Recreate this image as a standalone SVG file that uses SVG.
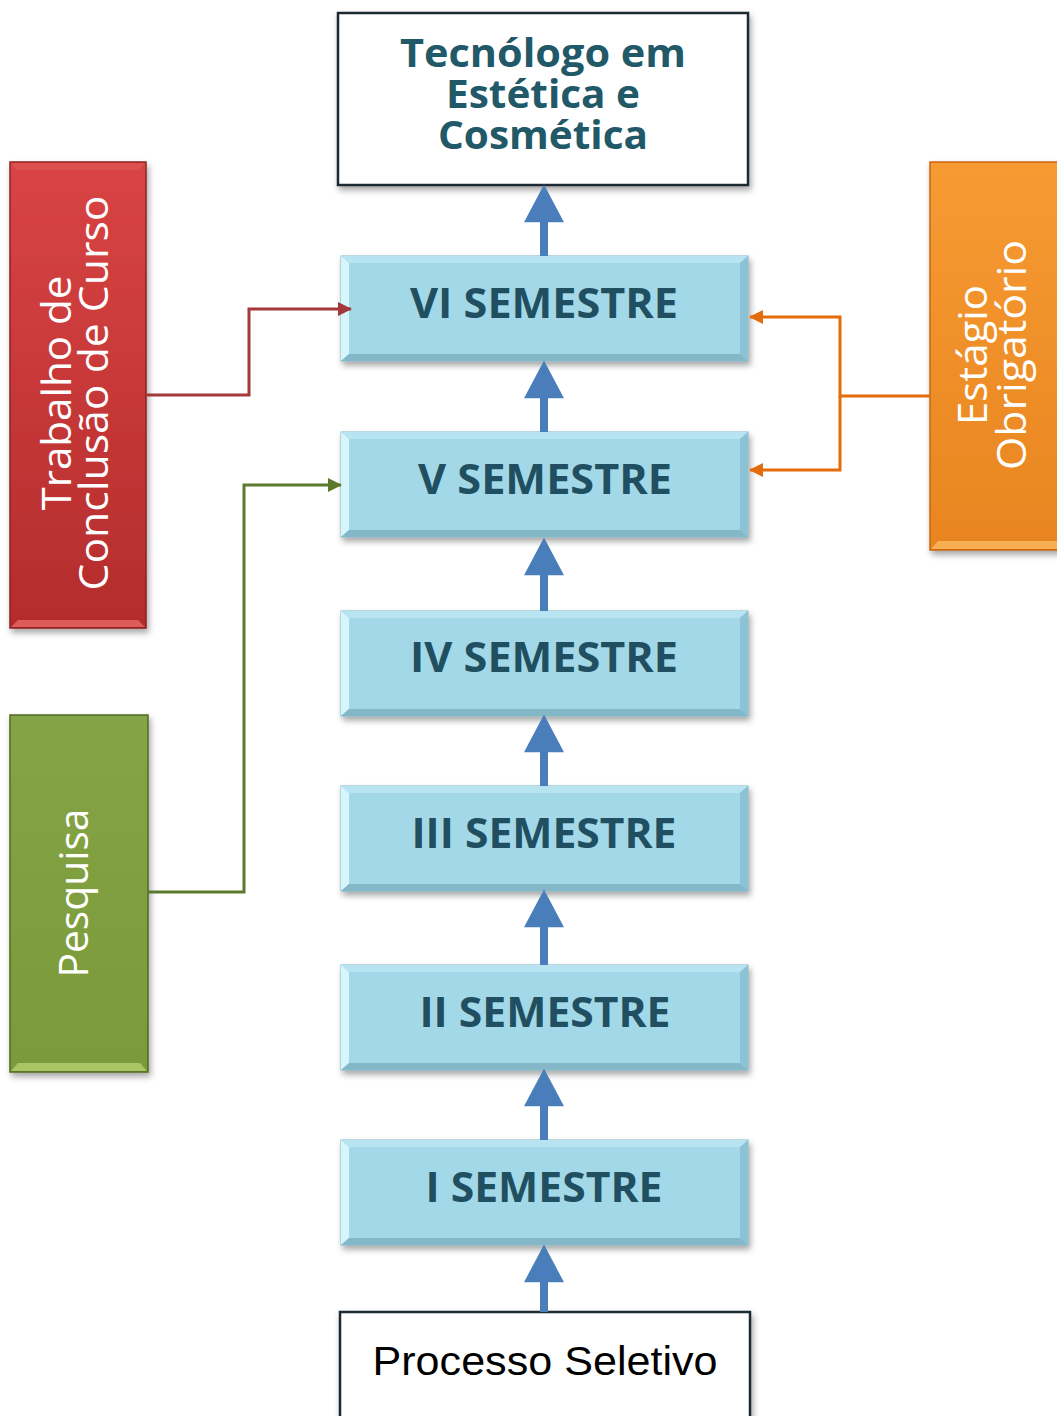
<svg xmlns="http://www.w3.org/2000/svg" width="1057" height="1416" viewBox="0 0 1057 1416">
<style>
.ttl{font-family:"Open Sans","Liberation Sans",sans-serif;font-weight:700;font-size:40px;fill:#215968;text-anchor:middle}
.sem{font-family:"Open Sans","Liberation Sans",sans-serif;font-weight:700;font-size:42px;fill:#1f4f60;text-anchor:middle}
.side{font-family:"Open Sans","Liberation Sans",sans-serif;font-size:40px;fill:#ffffff;text-anchor:middle}
.ps{font-family:"Liberation Sans",Arial,sans-serif;font-size:40px;fill:#000000;text-anchor:middle}
.plain{fill:#ffffff;stroke:#1e2a30;stroke-width:2.5}
.blue{stroke:#4a7ebb;stroke-width:8;fill:none}
</style>
<defs>
<filter id="sh" x="-10%" y="-10%" width="130%" height="130%">
<feDropShadow dx="2" dy="4" stdDeviation="3" flood-color="#000" flood-opacity="0.35"/>
</filter>
<linearGradient id="gRed" x1="0" y1="0" x2="0" y2="1"><stop offset="0" stop-color="#d94444"/><stop offset="1" stop-color="#b42c2c"/></linearGradient>
<linearGradient id="gGreen" x1="0" y1="0" x2="0" y2="1"><stop offset="0" stop-color="#85a446"/><stop offset="1" stop-color="#7a9a3a"/></linearGradient>
<linearGradient id="gOr" x1="0" y1="0" x2="0" y2="1"><stop offset="0" stop-color="#f79a33"/><stop offset="1" stop-color="#e88520"/></linearGradient>
<symbol id="semBox" overflow="visible">
<rect x="0" y="0" width="407" height="105" fill="#a3d8e8" stroke="#7fb3c4" stroke-width="1"/>
<polygon points="0,0 407,0 399,7 8,7" fill="#b8e4f1"/>
<polygon points="0,0 8,7 8,98 0,105" fill="#d6f6fc"/>
<polygon points="407,0 407,105 399,98 399,7" fill="#8cc2d3"/>
<polygon points="0,105 8,98 399,98 407,105" fill="#84b8c9"/>
</symbol>
<marker id="mBlue" markerUnits="userSpaceOnUse" markerWidth="40" markerHeight="40" viewBox="0 0 36 38" refX="6" refY="19" orient="auto">
<path d="M0,0 L36,19 L0,38 z" fill="#4a7ebb"/>
</marker>
<marker id="mRed" markerUnits="userSpaceOnUse" markerWidth="14" markerHeight="14" viewBox="0 0 14 14" refX="13" refY="7" orient="auto">
<path d="M0,0 L14,7 L0,14 z" fill="#a3393a"/>
</marker>
<marker id="mGreen" markerUnits="userSpaceOnUse" markerWidth="14" markerHeight="14" viewBox="0 0 14 14" refX="13" refY="7" orient="auto">
<path d="M0,0 L14,7 L0,14 z" fill="#5c7a2e"/>
</marker>
<marker id="mOr" markerUnits="userSpaceOnUse" markerWidth="14" markerHeight="14" viewBox="0 0 14 14" refX="13" refY="7" orient="auto">
<path d="M0,0 L14,7 L0,14 z" fill="#e46c0a"/>
</marker>
</defs>
<rect width="1057" height="1416" fill="#ffffff"/>

<g id="n-tecnologo">
<rect class="plain" x="338" y="13" width="410" height="172" filter="url(#sh)"/>
<text class="ttl" x="543" y="67" textLength="286" lengthAdjust="spacingAndGlyphs">Tecnólogo em</text>
<text class="ttl" x="543" y="108" textLength="194" lengthAdjust="spacingAndGlyphs">Estética e</text>
<text class="ttl" x="543" y="149" textLength="210" lengthAdjust="spacingAndGlyphs">Cosmética</text>
</g>

<g id="n-vi">
<use href="#semBox" x="341" y="256" filter="url(#sh)"/>
<text class="sem" x="544" y="318" textLength="268" lengthAdjust="spacingAndGlyphs">VI SEMESTRE</text>
</g>
<g id="n-v">
<use href="#semBox" x="341" y="432" filter="url(#sh)"/>
<text class="sem" x="545" y="494" textLength="254" lengthAdjust="spacingAndGlyphs">V SEMESTRE</text>
</g>
<g id="n-iv">
<use href="#semBox" x="341" y="611" filter="url(#sh)"/>
<text class="sem" x="544" y="672" textLength="268" lengthAdjust="spacingAndGlyphs">IV SEMESTRE</text>
</g>
<g id="n-iii">
<use href="#semBox" x="341" y="786" filter="url(#sh)"/>
<text class="sem" x="544" y="848" textLength="265" lengthAdjust="spacingAndGlyphs">III SEMESTRE</text>
</g>
<g id="n-ii">
<use href="#semBox" x="341" y="965" filter="url(#sh)"/>
<text class="sem" x="545" y="1027" textLength="251" lengthAdjust="spacingAndGlyphs">II SEMESTRE</text>
</g>
<g id="n-i">
<use href="#semBox" x="341" y="1140" filter="url(#sh)"/>
<text class="sem" x="544" y="1202" textLength="237" lengthAdjust="spacingAndGlyphs">I SEMESTRE</text>
</g>

<g id="n-processo">
<rect class="plain" x="340" y="1312" width="410" height="110" filter="url(#sh)"/>
<text class="ps" x="545" y="1375" textLength="345" lengthAdjust="spacingAndGlyphs">Processo Seletivo</text>
</g>

<g id="n-tcc">
<rect x="10" y="162" width="136" height="466" fill="url(#gRed)" stroke="#8e2222" stroke-width="1.5" filter="url(#sh)"/>
<polygon points="11,163 145,163 138,170 18,170" fill="#e05a5a" opacity="0.6"/>
<polygon points="11,627 145,627 138,620 18,620" fill="#f07070" opacity="0.7"/>
<text class="side" transform="translate(71,393) rotate(-90)" textLength="235" lengthAdjust="spacingAndGlyphs">Trabalho de</text>
<text class="side" transform="translate(108,393) rotate(-90)" textLength="395" lengthAdjust="spacingAndGlyphs">Conclusão de Curso</text>
</g>

<g id="n-pesquisa">
<rect x="10" y="715" width="138" height="357" fill="url(#gGreen)" stroke="#4f6a22" stroke-width="1.5" filter="url(#sh)"/>
<polygon points="11,1071 147,1071 140,1063 18,1063" fill="#b5d070" opacity="0.8"/>
<text class="side" transform="translate(88,893) rotate(-90)" textLength="169" lengthAdjust="spacingAndGlyphs">Pesquisa</text>
</g>

<g id="n-estagio">
<rect x="930" y="162" width="140" height="388" fill="url(#gOr)" stroke="#c9650c" stroke-width="1.5" filter="url(#sh)"/>
<polygon points="931,549 1057,549 1057,541 938,541" fill="#fbb860" opacity="0.8"/>
<text class="side" transform="translate(987,355) rotate(-90)" textLength="140" lengthAdjust="spacingAndGlyphs">Estágio</text>
<text class="side" transform="translate(1026,355) rotate(-90)" textLength="230" lengthAdjust="spacingAndGlyphs">Obrigatório</text>
</g>

<g id="connectors">
<line class="blue" x1="544" y1="256" x2="544" y2="216" marker-end="url(#mBlue)"/>
<line class="blue" x1="544" y1="432" x2="544" y2="392" marker-end="url(#mBlue)"/>
<line class="blue" x1="544" y1="611" x2="544" y2="569" marker-end="url(#mBlue)"/>
<line class="blue" x1="544" y1="786" x2="544" y2="746" marker-end="url(#mBlue)"/>
<line class="blue" x1="544" y1="965" x2="544" y2="921" marker-end="url(#mBlue)"/>
<line class="blue" x1="544" y1="1140" x2="544" y2="1100" marker-end="url(#mBlue)"/>
<line class="blue" x1="544" y1="1312" x2="544" y2="1276" marker-end="url(#mBlue)"/>
<path d="M146,395 H249 V309 H351" fill="none" stroke="#a3393a" stroke-width="3" marker-end="url(#mRed)"/>
<path d="M148,892 H244 V485 H341" fill="none" stroke="#5c7a2e" stroke-width="3" marker-end="url(#mGreen)"/>
<path d="M930,396 H840 V317 H750" fill="none" stroke="#e46c0a" stroke-width="3" marker-end="url(#mOr)"/>
<path d="M840,396 V470 H750" fill="none" stroke="#e46c0a" stroke-width="3" marker-end="url(#mOr)"/>
</g>
</svg>
